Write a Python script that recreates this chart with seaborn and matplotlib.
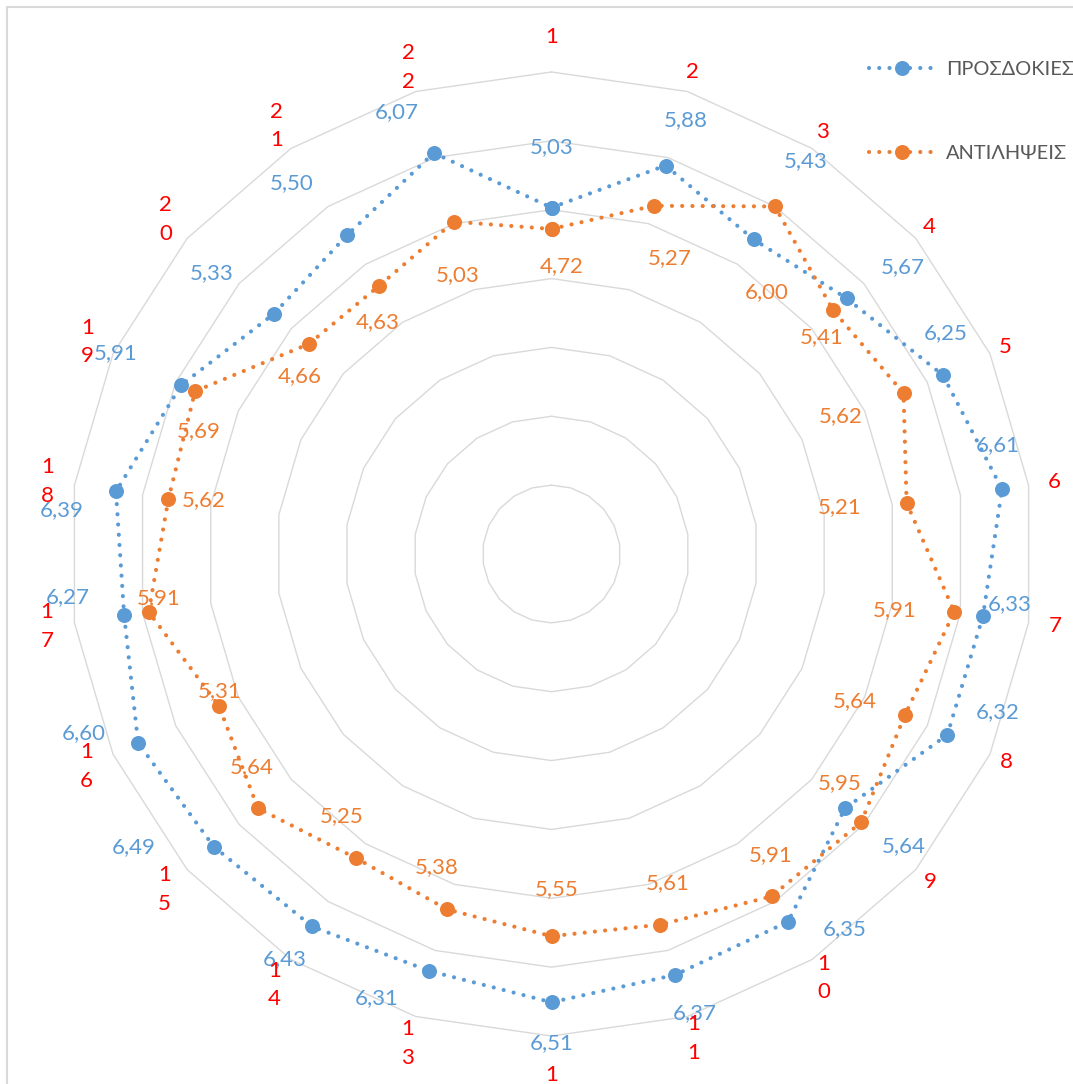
import numpy as np
import pandas as pd
import matplotlib
matplotlib.use("Agg")
import matplotlib.pyplot as plt
from matplotlib.patches import Rectangle
import seaborn as sns

# --- data -------------------------------------------------------------
categories = [str(i) for i in range(1, 23)]
expectations = [5.03, 5.88, 5.43, 5.67, 6.25, 6.61, 6.33, 6.32, 5.64, 6.35, 6.37,
                6.51, 6.31, 6.43, 6.49, 6.60, 6.27, 6.39, 5.91, 5.33, 5.50, 6.07]
perceptions = [4.72, 5.27, 6.00, 5.41, 5.62, 5.21, 5.91, 5.64, 5.95, 5.91, 5.61,
               5.55, 5.38, 5.25, 5.64, 5.31, 5.91, 5.62, 5.69, 4.66, 4.63, 5.03]
series_names = ["ΠΡΟΣΔΟΚΙΕΣ", "ΑΝΤΙΛΗΨΕΙΣ"]
ring_levels = [1, 2, 3, 4, 5, 6, 7]

# --- layout / styling -------------------------------------------------
W, H, DPI = 1073, 1084, 100
CX, CY = 551.5, 554.0          # chart centre (pixels from top-left)
PX_PER_UNIT = 68.86            # radial scale
BLUE, ORANGE, RED = "#5B9BD5", "#ED7D31", "#FF0000"
GRID = "#D9D9D9"
FS = 16
LEG_FS = 14.4

# nudges of the value labels, in pixels (right, down) from each marker
blue_nudge = [(0, -61), (20, -45), (52, -78), (56, -31), (3, -42), (-4, -44),
              (27, -12), (50, -23), (59, 38), (57, 7), (20, 38), (0, 41),
              (-52, 27), (-27, 33), (-80, 0), (-54, -10), (-56, -18), (-54, 19),
              (-66, -32), (-62, -41), (-55, -52), (-37, -41)]
orange_nudge = [(10, 37), (16, 52), (-8, 86), (-11, 27), (-63, 23), (-67, 4),
                (-60, -2), (-50, -14), (-21, -39), (-1, -41), (7, -42), (5, -47),
                (-10, -42), (-14, -42), (-6, -41), (1, -15), (10, -14), (35, 1),
                (4, 40), (-9, 32), (-1, 36), (4, 53)]
# radial distance of each category label (value units)
cat_label_r = [7.51, 7.29, 7.29, 7.25, 7.24, 7.38, 7.39, 7.26, 7.28, 7.32, 7.33,
               7.78, 7.41, 7.44, 7.44, 7.42, 7.40, 7.39, 7.41, 7.41, 7.39, 7.36]

sns.set_theme(style="white")
plt.rcParams["font.family"] = ["Lato", "Noto Sans", "DejaVu Sans"]

n = len(categories)
theta = np.arange(n) * 2 * np.pi / n      # clockwise from the top


def to_xy(r, th):
    r = np.asarray(r, dtype=float)
    return r * np.sin(th), r * np.cos(th)


fig = plt.figure(figsize=(W / DPI, H / DPI), dpi=DPI)
ax = fig.add_axes([0, 0, 1, 1])
ax.set_xlim(-CX / PX_PER_UNIT, (W - CX) / PX_PER_UNIT)
ax.set_ylim(-(H - CY) / PX_PER_UNIT, CY / PX_PER_UNIT)

# chart-area border (left and top edges visible)
fig.patches.append(Rectangle((7 / W, -0.5), 2.0, 1.5 - 7 / H,
                             transform=fig.transFigure, fill=False,
                             edgecolor=GRID, lw=1.5, zorder=0))

# polygonal grid rings
th_closed = np.append(theta, theta[0])
for lvl in ring_levels:
    gx, gy = to_xy(np.full(n + 1, lvl), th_closed)
    ax.plot(gx, gy, color=GRID, lw=1.0, zorder=1)

# series
for name, vals, color, z in [(series_names[0], expectations, BLUE, 3),
                             (series_names[1], perceptions, ORANGE, 4)]:
    xs, ys = to_xy(np.append(vals, vals[0]), th_closed)
    df = pd.DataFrame({"x": xs, "y": ys})
    sns.lineplot(data=df, x="x", y="y", sort=False, estimator=None, ax=ax,
                 color=color, lw=3.0, marker="o", markersize=10.8,
                 markeredgewidth=0, label=name, zorder=z)
    line = ax.lines[-1]
    line.set_dashes((0.01, 2.45))
    line.set_dash_capstyle("round")

ax.axis("off")

# value labels
for vals, nudges, color in [(expectations, blue_nudge, BLUE),
                            (perceptions, orange_nudge, ORANGE)]:
    xs, ys = to_xy(vals, theta)
    for v, x, y, (dx, dy) in zip(vals, xs, ys, nudges):
        ax.annotate(f"{v:.2f}".replace(".", ","), (x, y), xytext=(dx, -dy),
                    textcoords="offset pixels", ha="center", va="center",
                    fontsize=FS, color=color, zorder=6)

# category labels, one character per line
lx, ly = to_xy(cat_label_r, theta)
for lab, x, y in zip(categories, lx, ly):
    ax.text(x, y, "\n".join(lab), ha="center", va="center", fontsize=FS,
            color=RED, linespacing=1.55, zorder=6)

# legend
leg = ax.legend(loc="upper left", bbox_to_anchor=(869 / W, 1 - 61 / H),
                bbox_transform=fig.transFigure, frameon=False, fontsize=LEG_FS,
                handlelength=3.3, handletextpad=0.55, labelspacing=3.35,
                borderpad=0, borderaxespad=0, numpoints=1)
for t in leg.get_texts():
    t.set_color("#595959")

fig.savefig("out.png", dpi=DPI, facecolor="white")
